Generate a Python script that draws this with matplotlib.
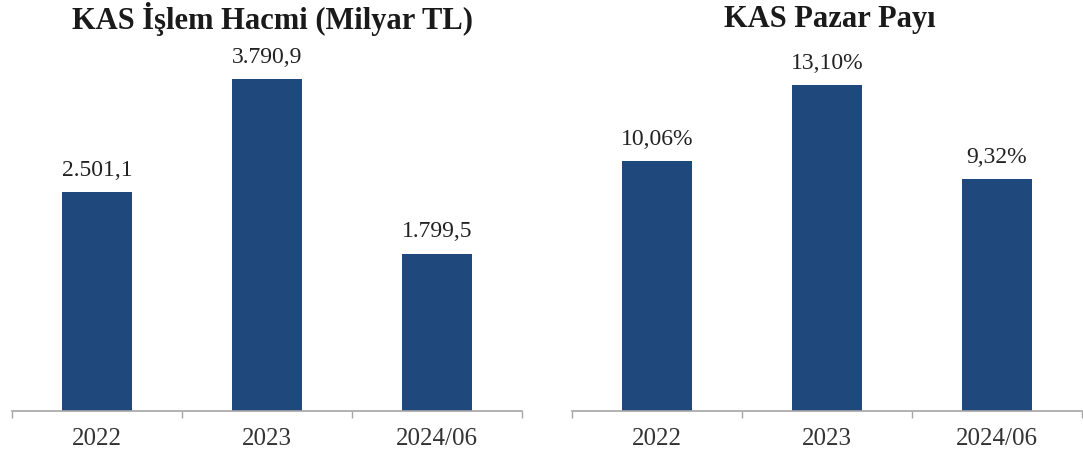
import numpy as np
import matplotlib
matplotlib.use("Agg")
import matplotlib.pyplot as plt

plt.rcParams['font.family'] = ['Liberation Serif', 'DejaVu Serif']

years = ["2022", "2023", "2024/06"]
hacim = [2501.1, 3790.9, 1799.5]
hacim_lbl = ["2.501,1", "3.790,9", "1.799,5"]
pay = [10.06, 13.10, 9.32]
pay_lbl = ["10,06%", "13,10%", "9,32%"]

W, H = 1083, 461
fig = plt.figure(figsize=(W / 100, H / 100), dpi=100)

bar_color = "#1F497D"
axis_color = "#A6A6A6"

def panel(left_px, right_px, values, labels, ymax, title, title_x):
    ax = fig.add_axes([left_px / W, (H - 411) / H, (right_px - left_px) / W, 350 / H])
    x = np.arange(len(years))
    ax.bar(x, values, width=0.41, color=bar_color, zorder=2)
    for xi, v, l in zip(x, values, labels):
        ax.annotate(l, (xi, v), xytext=(0, 8), textcoords="offset points",
                    ha="center", va="bottom", fontsize=17, color="#222222")
    ax.set_xlim(-0.5, 2.5)
    ax.set_ylim(0, ymax)
    for s in ["top", "right", "left"]:
        ax.spines[s].set_visible(False)
    ax.spines["bottom"].set_color(axis_color)
    ax.spines["bottom"].set_linewidth(1.2)
    ax.set_yticks([])
    ax.set_xticks(x)
    ax.set_xticklabels(years, fontsize=18, color="#333333")
    ax.tick_params(axis="x", which="major", length=0, pad=12)
    ax.set_xticks([-0.5, 0.5, 1.5, 2.5], minor=True)
    ax.tick_params(axis="x", which="minor", length=5, width=1, color=axis_color)
    fig.text(title_x / W, 1 - 19 / H, title, ha="center", va="center",
             fontsize=22, fontweight="bold", color="#1a1a1a")
    return ax

panel(12, 522, hacim, hacim_lbl, 4000, "KAS İşlem Hacmi (Milyar TL)", 272)
panel(572, 1082, pay, pay_lbl, 14.07, "KAS Pazar Payı", 830)

fig.savefig("out.png", dpi=100)
